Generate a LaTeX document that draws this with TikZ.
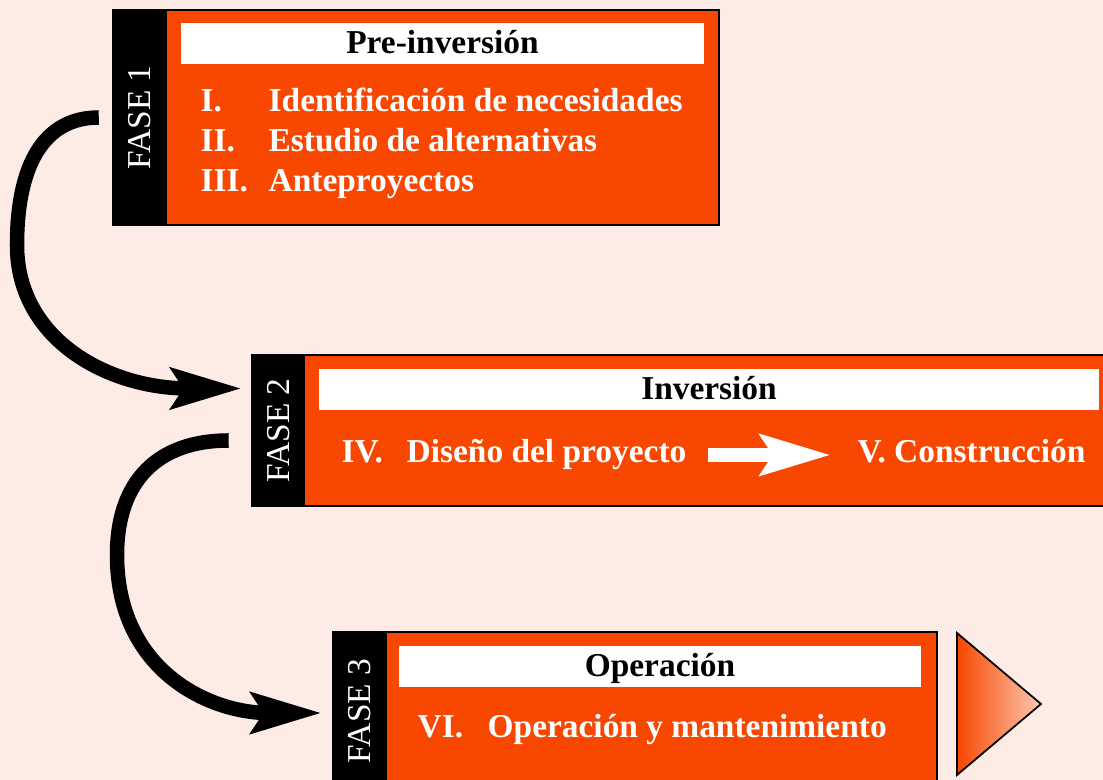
\documentclass[tikz,border=0pt]{standalone}
\usepackage{fontspec}
\setmainfont{Liberation Serif}
\usetikzlibrary{calc,arrows.meta}

\definecolor{fondo}{RGB}{253,236,229}
\definecolor{naranja}{RGB}{247,71,0}
\definecolor{durazno}{RGB}{253,200,180}

\tikzset{
  caja/.style={draw=black, line width=0.6pt, fill=naranja, inner sep=0pt},
  franja/.style={fill=black, inner sep=0pt, minimum width=0.54cm, anchor=west},
  fase/.style={white, rotate=90, font=\fontsize{9.5}{11}\selectfont},
  cabecera/.style={fill=white, inner sep=0pt, minimum height=0.41cm, text height=0.305cm, text depth=0.105cm, font=\fontsize{9.5}{11}\selectfont\bfseries},
  item/.style={white, inner sep=0pt, anchor=base west, font=\fontsize{9.5}{11}\selectfont\bfseries},
  flecha/.style={line width=1.45mm, -{Stealth[length=7mm,width=4mm,inset=1.2mm]}},
}

\begin{document}
\begin{tikzpicture}[x=0.01cm, y=-0.01cm]
\fill[fondo] (0,0) rectangle (1103,780);
\useasboundingbox (0,0) rectangle (1103,780);
\clip (0,0) rectangle (1103,780);

% fase 1
\node[caja, minimum width=6.06cm, minimum height=2.15cm] (f1) at (416,117.5) {};
\node[franja, minimum height=2.15cm] (n1) at (f1.west) {};
\node[fase] at (n1) {FASE 1};
\node[cabecera, minimum width=5.23cm] (c1) at (442.5,43.5) {Pre-inversión};
\node[item] at (200,112) {I.};
\node[item] at (268,112) {Identificación de necesidades};
\node[item] at (200,152) {II.};
\node[item] at (268,152) {Estudio de alternativas};
\node[item] at (200,192) {III.};
\node[item] at (268,192) {Anteproyectos};

% fase 2
\node[caja, minimum width=8.53cm, minimum height=1.51cm] (f2) at (678.5,430.5) {};
\node[franja, minimum height=1.51cm] (n2) at (f2.west) {};
\node[fase] at (n2) {FASE 2};
\node[cabecera, minimum width=7.8cm] (c2) at (709,389.5) {Inversión};
\node[item] at (341,463) {IV.};
\node[item] (dis) at (406,463) {Diseño del proyecto};
\node[item] (con) at (857,463) {V. Construcción};
\draw[flecha, white, shorten <=0.21cm, shorten >=0.26cm] (dis.east) -- (dis.east -| con.west);

% fase 3
\node[caja, minimum width=6.04cm, minimum height=1.58cm] (f3) at (635,711) {};
\node[franja, minimum height=1.58cm] (n3) at (f3.west) {};
\node[fase] at (n3) {FASE 3};
\node[cabecera, minimum width=5.22cm] (c3) at (660,666.5) {Operación};
\node[item] at (417,738) {VI.};
\node[item] at (487,738) {Operación y mantenimiento};

\draw[line width=0.5pt, left color=naranja, right color=durazno] (957,633) -- (1041,704) -- (957,775) -- cycle;

% flechas entre fases
\coordinate (s1) at ($(f1.west)+(-13,0)$);
\coordinate (t1) at ($(f2.west)+(-9,-42)$);
\draw[flecha] (s1) .. controls +(-55,0) and +(0,-80) .. (17,245) .. controls +(0,95) and +(-133,0) .. (t1);
\coordinate (s2) at ($(f2.west)+(-22,10)$);
\coordinate (t2) at ($(f3.west)+(-10,2)$);
\draw[flecha] (s2) .. controls +(-70,0) and +(0,-75) .. (117,555) .. controls +(0,115) and +(-113,0) .. (t2);
\end{tikzpicture}
\end{document}
